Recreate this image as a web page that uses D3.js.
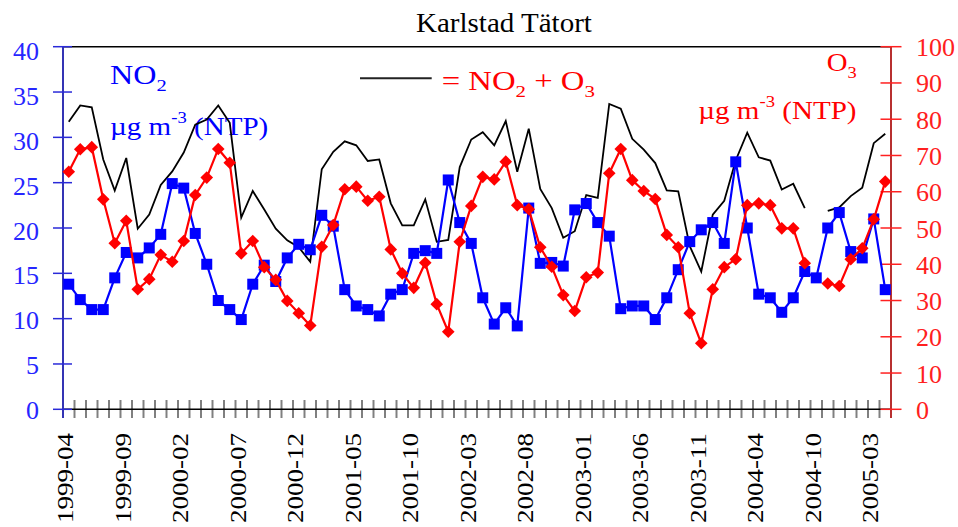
<!DOCTYPE html>
<html>
<head>
<meta charset="utf-8">
<script src="https://cdn.jsdelivr.net/npm/d3@7"></script>
<style>
  html, body { margin: 0; padding: 0; background: #fff; }
  svg { display: block; }
</style>
</head>
<body>
<svg id="chart" width="958" height="527"></svg>
<script>
// ---------------- DATA ----------------
const categories = [
  "1999-04","1999-05","1999-06","1999-07","1999-08","1999-09","1999-10","1999-11","1999-12",
  "2000-01","2000-02","2000-03","2000-04","2000-05","2000-06","2000-07","2000-08","2000-09","2000-10","2000-11","2000-12",
  "2001-01","2001-02","2001-03","2001-04","2001-05","2001-06","2001-07","2001-08","2001-09","2001-10","2001-11","2001-12",
  "2002-01","2002-02","2002-03","2002-04","2002-05","2002-06","2002-07","2002-08","2002-09","2002-10","2002-11","2002-12",
  "2003-01","2003-02","2003-03","2003-04","2003-05","2003-06","2003-07","2003-08","2003-09","2003-10","2003-11","2003-12",
  "2004-01","2004-02","2004-03","2004-04","2004-05","2004-06","2004-07","2004-08","2004-10","2004-11","2004-12",
  "2005-01","2005-02","2005-03","2005-04"
];
const xTickLabels = ["1999-04","1999-09","2000-02","2000-07","2000-12","2001-05","2001-10","2002-03",
  "2002-08","2003-01","2003-06","2003-11","2004-04","2004-10","2005-03"];

// NO2, µg m-3 (left axis)
const no2 = [13.8,12.1,11.0,11.0,14.5,17.3,16.7,17.8,19.3,24.9,24.4,19.4,16.0,12.0,11.0,9.9,13.8,15.9,14.1,16.7,
  18.2,17.6,21.4,20.2,13.2,11.4,11.0,10.3,12.7,13.2,17.2,17.5,17.2,25.3,20.6,18.3,12.3,9.4,11.2,9.2,
  22.2,16.1,16.2,15.8,22.0,22.7,20.6,19.1,11.1,11.4,11.4,9.9,12.3,15.4,18.5,19.8,20.6,18.3,27.3,20.0,
  12.7,12.3,10.7,12.3,15.2,14.5,20.0,21.7,17.4,16.7,21.0,13.2];
// O3, µg m-3 (right axis)
const o3 = [65.5,71.7,72.3,57.9,45.8,52.0,33.1,35.9,42.6,40.7,46.4,59.1,63.9,71.8,68.0,43.0,46.4,39.2,35.7,29.9,
  26.5,23.1,44.8,50.8,60.7,61.4,57.5,58.6,44.1,37.5,33.5,40.4,29.0,21.4,46.2,56.1,64.1,63.4,68.3,56.3,
  55.2,44.7,39.3,31.5,27.1,36.4,37.7,65.1,71.8,63.2,60.2,58.0,48.1,44.7,26.5,18.2,33.1,39.2,41.4,56.3,
  56.8,56.3,49.9,49.9,40.3,null,34.7,34.0,41.4,44.4,52.4,62.8];
// NO2 + O3 (right axis)
const total = [79.3,83.8,83.3,68.9,60.3,69.3,49.8,53.7,61.9,65.6,70.8,78.5,79.9,83.8,79.0,52.9,60.2,55.1,49.8,46.6,
  44.7,40.7,66.2,71.0,73.9,72.8,68.5,68.9,56.8,50.7,50.7,57.9,46.2,46.7,66.8,74.4,76.4,72.8,79.5,65.5,
  77.4,60.8,55.5,47.3,49.1,59.1,58.3,84.2,82.9,74.6,71.6,67.9,60.4,60.1,45.0,38.0,53.7,57.5,68.7,76.3,
  69.5,68.6,60.6,62.2,55.5,null,54.7,55.7,58.8,61.1,73.4,76.0];

const leftTicks = [0,5,10,15,20,25,30,35,40];
const rightTicks = [0,10,20,30,40,50,60,70,80,90,100];

// ---------------- LAYOUT ----------------
const FONT = "'Liberation Serif','Times New Roman',serif";
const X0 = 63, X1 = 891, Y0 = 409.3, Y1 = 46.7;
const BLUE = "#0000ff", RED = "#ff0000";

const svg = d3.select("#chart");
const x = d3.scaleBand().domain(categories).range([X0, X1]).paddingInner(0).paddingOuter(0);
const cx = c => x(c) + x.bandwidth() / 2;
const yL = d3.scaleLinear().domain([0, 40]).range([Y0, Y1]);
const yR = d3.scaleLinear().domain([0, 100]).range([Y0, Y1]);

// rich text helper: parts with sub/sup, scaled horizontally to target width
function richText(parent, opt) {
  const g = parent.append("g");
  const t = g.append("text").attr("font-family", FONT).attr("font-size", opt.size)
    .attr("fill", opt.fill).attr("x", 0).attr("y", 0);
  let cur = 0;
  opt.parts.forEach(p => {
    const ts = t.append("tspan").text(p.t);
    let target = 0;
    if (p.sub) { ts.attr("font-size", opt.size * 0.64); target = opt.size * 0.26; }
    if (p.sup) { ts.attr("font-size", opt.size * 0.64); target = -opt.size * 0.46; }
    if (target - cur !== 0) ts.attr("dy", target - cur);
    cur = target;
  });
  const w = t.node().getComputedTextLength();
  const sx = opt.width ? opt.width / w : 1;
  g.attr("transform", `translate(${opt.x},${opt.y}) scale(${sx},1)`);
  return g;
}

// Title
richText(svg, {x: 416, y: 31.5, size: 27, fill: "#000", width: 176, parts: [{t: "Karlstad Tätort"}]});

// Top border
svg.append("line").attr("x1", X0).attr("x2", X1).attr("y1", Y1).attr("y2", Y1)
  .attr("stroke", "#000").attr("stroke-width", 1.5);

// Annotations
richText(svg, {x: 110, y: 84, size: 27, fill: BLUE, width: 56.7, parts: [{t: "NO"}, {t: "2", sub: true}]});
richText(svg, {x: 110, y: 135, size: 26, fill: BLUE, width: 158.3,
  parts: [{t: "µg m"}, {t: "-3", sup: true}, {t: " (NTP)"}]});
svg.append("line").attr("x1", 360).attr("x2", 431.7).attr("y1", 78.3).attr("y2", 78.3)
  .attr("stroke", "#222").attr("stroke-width", 2);
richText(svg, {x: 441.7, y: 90, size: 27, fill: RED, width: 153.3,
  parts: [{t: "= NO"}, {t: "2", sub: true}, {t: " + O"}, {t: "3", sub: true}]});
richText(svg, {x: 826.7, y: 71, size: 26, fill: RED, width: 30, parts: [{t: "O"}, {t: "3", sub: true}]});
richText(svg, {x: 698.3, y: 119, size: 26, fill: RED, width: 158.3,
  parts: [{t: "µg m"}, {t: "-3", sup: true}, {t: " (NTP)"}]});

// Bottom axis
const step = x.step();
const bottom = svg.append("g");
d3.range(1, categories.length).forEach(k => {
  bottom.append("line").attr("x1", X0 + k * step).attr("x2", X0 + k * step)
    .attr("y1", 400).attr("y2", 418).attr("stroke", "#808080").attr("stroke-width", 2);
});
bottom.append("line").attr("x1", X0).attr("x2", X1).attr("y1", Y0).attr("y2", Y0)
  .attr("stroke", "#000").attr("stroke-width", 1.5);
xTickLabels.forEach(lab => {
  bottom.append("text")
    .attr("transform", `translate(${cx(lab) + 4.5},433) rotate(-90)`)
    .attr("text-anchor", "end")
    .attr("font-family", FONT).attr("font-size", 23).attr("fill", "#000")
    .attr("textLength", 90).attr("lengthAdjust", "spacingAndGlyphs")
    .text(lab);
});

// Left axis
const la = svg.append("g");
la.append("line").attr("x1", X0).attr("x2", X0).attr("y1", Y1).attr("y2", 418)
  .attr("stroke", "#3434b4").attr("stroke-width", 2);
leftTicks.forEach(v => {
  la.append("line").attr("x1", 53).attr("x2", 72).attr("y1", yL(v)).attr("y2", yL(v))
    .attr("stroke", "#2a2ad8").attr("stroke-width", 1.5);
  la.append("text").attr("x", 39).attr("y", yL(v) + 1 + v * 0.1)
    .attr("text-anchor", "end").attr("dominant-baseline", "central")
    .attr("font-family", FONT).attr("font-size", 26).attr("fill", "#2626ff").text(v);
});

// Right axis
const ra = svg.append("g");
ra.append("line").attr("x1", X1).attr("x2", X1).attr("y1", Y1).attr("y2", 418)
  .attr("stroke", "#b83030").attr("stroke-width", 2);
rightTicks.forEach(v => {
  ra.append("line").attr("x1", 880.5).attr("x2", 901.5).attr("y1", yR(v)).attr("y2", yR(v))
    .attr("stroke", "#ff2020").attr("stroke-width", 1.5);
  ra.append("text").attr("x", 916).attr("y", yR(v) + 1)
    .attr("text-anchor", "start").attr("dominant-baseline", "central")
    .attr("font-family", FONT).attr("font-size", 26).attr("fill", "#ff2020").text(v);
});

// Series
const idx = d3.range(categories.length);
const lineTotal = d3.line().defined(i => total[i] != null).x(i => cx(categories[i])).y(i => yR(total[i]));
const lineNO2 = d3.line().x(i => cx(categories[i])).y(i => yL(no2[i]));
const lineO3 = d3.line().defined(i => o3[i] != null).x(i => cx(categories[i])).y(i => yR(o3[i]));

svg.append("path").attr("d", lineTotal(idx)).attr("fill", "none")
  .attr("stroke", "#000").attr("stroke-width", 1.8).attr("stroke-linejoin", "miter");

svg.append("path").attr("d", lineNO2(idx)).attr("fill", "none")
  .attr("stroke", BLUE).attr("stroke-width", 2.2);
svg.append("g").selectAll("rect").data(idx).join("rect")
  .attr("x", i => cx(categories[i]) - 5.5).attr("y", i => yL(no2[i]) - 5.5)
  .attr("width", 11).attr("height", 11).attr("fill", BLUE);

svg.append("path").attr("d", lineO3(idx)).attr("fill", "none")
  .attr("stroke", RED).attr("stroke-width", 2.2);
const d = 6.3;
svg.append("g").selectAll("path").data(idx.filter(i => o3[i] != null)).join("path")
  .attr("transform", i => `translate(${cx(categories[i])},${yR(o3[i])})`)
  .attr("d", `M0,${-d}L${d},0L0,${d}L${-d},0Z`).attr("fill", RED);
</script>
</body>
</html>
